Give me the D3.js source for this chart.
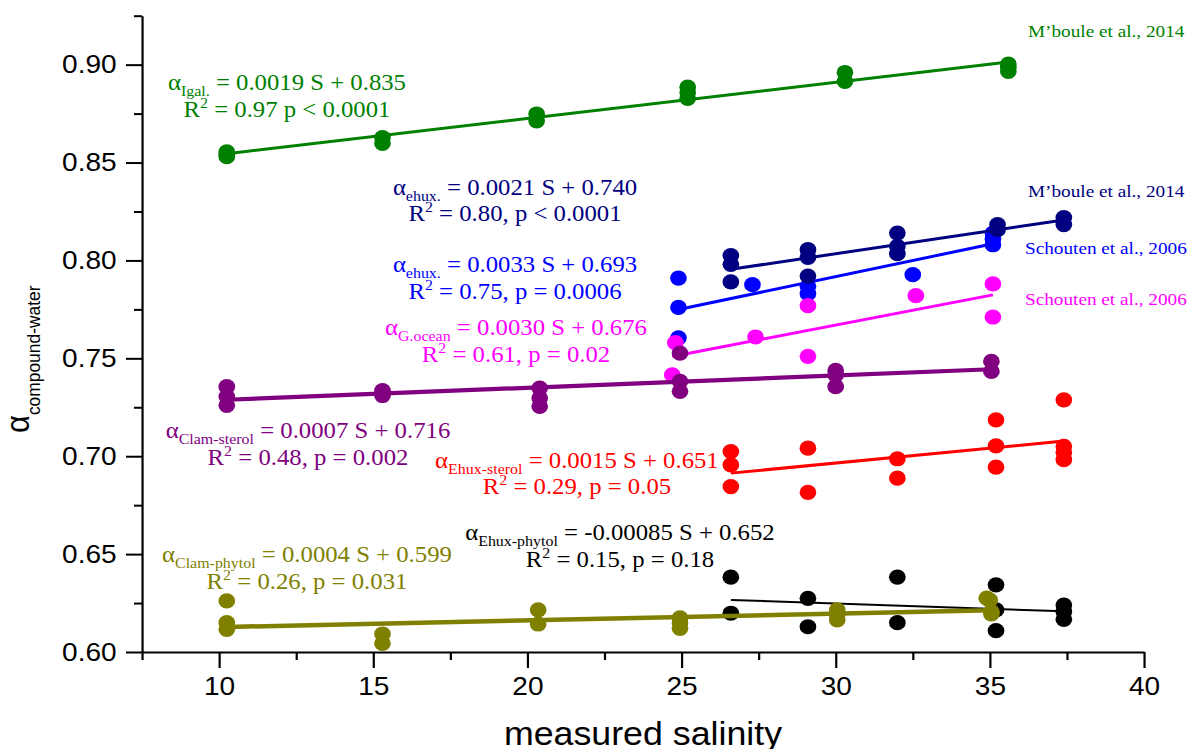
<!DOCTYPE html>
<html>
<head>
<meta charset="utf-8">
<script src="https://cdn.jsdelivr.net/npm/d3@7"></script>
<style>
  html, body { margin: 0; padding: 0; background: #fff; }
  svg { display: block; }
</style>
</head>
<body>
<svg id="chart" width="1190" height="749"></svg>
<script>
// ---- measured fractionation factors versus salinity ----
// I. galbana cultures (M'boule et al., 2014)
const salinityIgal = [10.25, 10.25, 10.25, 15.3, 15.3, 20.3, 20.3, 25.2, 25.2, 25.2, 30.3, 30.3, 35.6, 35.6, 35.6];
const alphaIgal    = [0.8555, 0.8540, 0.8530, 0.8627, 0.8598, 0.8748, 0.8713, 0.8885, 0.8858, 0.8828, 0.8960, 0.8915, 0.9003, 0.8985, 0.8965];

// E. huxleyi alkenones (Schouten et al., 2006)
const salinityEhuxS = [24.9, 24.9, 24.9, 27.3, 29.1, 29.1, 32.5, 35.1, 35.1, 35.1];
const alphaEhuxS    = [0.7910, 0.7760, 0.7605, 0.7876, 0.7868, 0.7830, 0.7927, 0.8140, 0.8110, 0.8080];

// E. huxleyi alkenones (M'boule et al., 2014)
const salinityEhuxM = [26.6, 26.6, 26.6, 29.1, 29.1, 29.1, 32.0, 32.0, 32.0, 35.25, 35.25, 37.4, 37.4];
const alphaEhuxM    = [0.8025, 0.7980, 0.7890, 0.8055, 0.8015, 0.7920, 0.8140, 0.8072, 0.8035, 0.8183, 0.8157, 0.8219, 0.8183];

// G. oceanica alkenones (Schouten et al., 2006)
const salinityGoc = [24.7, 24.8, 27.4, 29.1, 29.1, 32.6, 35.1, 35.1];
const alphaGoc    = [0.7416, 0.7580, 0.7609, 0.7769, 0.7510, 0.7820, 0.7880, 0.7711];

// Clam sterols
const salinityClamSterol = [10.25, 10.25, 10.25, 15.3, 15.3, 20.4, 20.4, 20.4, 24.95, 24.95, 24.95, 30.0, 30.0, 30.0, 35.05, 35.05];
const alphaClamSterol    = [0.7355, 0.7305, 0.7260, 0.7335, 0.7310, 0.7348, 0.7297, 0.7254, 0.7527, 0.7382, 0.7331, 0.7438, 0.7415, 0.7355, 0.7484, 0.7433];

// E. huxleyi sterols
const salinityEhuxSterol = [26.6, 26.6, 26.6, 29.1, 29.1, 32.0, 32.0, 35.2, 35.2, 35.2, 37.4, 37.4, 37.4, 37.4];
const alphaEhuxSterol    = [0.7024, 0.6956, 0.6845, 0.7041, 0.6815, 0.6987, 0.6888, 0.7186, 0.7053, 0.6944, 0.7288, 0.7050, 0.7019, 0.6982];

// E. huxleyi phytol
const salinityEhuxPhytol = [26.6, 26.6, 29.1, 29.1, 32.0, 32.0, 35.2, 35.2, 35.2, 37.4, 37.4, 37.4];
const alphaEhuxPhytol    = [0.6382, 0.6198, 0.6274, 0.6129, 0.6382, 0.6150, 0.6343, 0.6215, 0.6109, 0.6240, 0.6206, 0.6167];

// Clam phytol
const salinityClamPhytol = [10.25, 10.25, 10.25, 15.3, 15.3, 20.35, 20.35, 24.95, 24.95, 24.95, 30.05, 30.05, 30.05, 34.9, 35.0, 35.05, 35.05];
const alphaClamPhytol    = [0.6261, 0.6150, 0.6116, 0.6092, 0.6044, 0.6215, 0.6143, 0.6174, 0.6148, 0.6121, 0.6215, 0.6190, 0.6164, 0.6275, 0.6265, 0.6205, 0.6195];

// regression statistics printed beside each fit
const eqSubscripts = ["Igal.", "ehux.", "ehux.", "G.ocean", "Clam-sterol", "Ehux-sterol", "Ehux-phytol", "Clam-phytol"];
const eqLine1 = [" = 0.0019 S + 0.835", " = 0.0021 S + 0.740", " = 0.0033 S + 0.693", " = 0.0030 S + 0.676",
                 " = 0.0007 S + 0.716", " = 0.0015 S + 0.651", " = -0.00085 S + 0.652", " = 0.0004 S + 0.599"];
const eqLine2 = [" = 0.97 p < 0.0001", " = 0.80, p < 0.0001", " = 0.75, p = 0.0006", " = 0.61, p = 0.02",
                 " = 0.48, p = 0.002", " = 0.29, p = 0.05", " = 0.15, p = 0.18", " = 0.26, p = 0.031"];

// data sources
const sourceLabels = ["M\u2019boule et al., 2014", "M\u2019boule et al., 2014", "Schouten et al., 2006", "Schouten et al., 2006"];

// axis ticks
const xMajorTicks = [10, 15, 20, 25, 30, 35, 40];
const xMinorTicks = [7.5, 12.5, 17.5, 22.5, 27.5, 32.5, 37.5];
const yMajorTicks = [0.60, 0.65, 0.70, 0.75, 0.80, 0.85, 0.90];
const yMinorTicks = [0.625, 0.675, 0.725, 0.775, 0.825, 0.875, 0.925];

// ---- styling and layout ----
const SX = 1.1;   // whole figure is drawn slightly widened
const serif = "'Liberation Serif', 'Times New Roman', serif";
const sans = "'Liberation Sans', Arial, sans-serif";

const series = [
  { S: salinityIgal,       A: alphaIgal,       color: "#008000", lw: 3 },
  { S: salinityEhuxS,      A: alphaEhuxS,      color: "#0000FF", lw: 3 },
  { S: salinityEhuxM,      A: alphaEhuxM,      color: "#000080", lw: 3 },
  { S: salinityGoc,        A: alphaGoc,        color: "#FF00FF", lw: 3 },
  { S: salinityClamSterol, A: alphaClamSterol, color: "#800080", lw: 4.2 },
  { S: salinityEhuxSterol, A: alphaEhuxSterol, color: "#FF0000", lw: 3 },
  { S: salinityEhuxPhytol, A: alphaEhuxPhytol, color: "#000000", lw: 2 },
  { S: salinityClamPhytol, A: alphaClamPhytol, color: "#808000", lw: 4.5 }
];

// equation blocks: order igal, ehux(M), ehux(S), G.ocean, clam-sterol, ehux-sterol, ehux-phytol, clam-phytol
const eqColors = ["#008000", "#000080", "#0000FF", "#FF00FF", "#800080", "#FF0000", "#000000", "#808000"];
const eqLayout = [
  { cx: 260.9, y1: 90,  y2: 117 },
  { cx: 468.2, y1: 195, y2: 221 },
  { cx: 468.2, y1: 272, y2: 299 },
  { cx: 469.1, y1: 335, y2: 362 },
  { cx: 280.0, y1: 438, y2: 465 },
  { cx: 524.5, y1: 468, y2: 494 },
  { cx: 563.6, y1: 540, y2: 567 },
  { cx: 279.1, y1: 562, y2: 589 }
];
const sourceColors = ["#008000", "#000080", "#0000FF", "#FF00FF"];
const sourceLayout = [
  { x: 934.5, y: 37 }, { x: 934.5, y: 197 }, { x: 931.8, y: 254 }, { x: 931.8, y: 305 }
];

const svg = d3.select("#chart");
const g = svg.append("g").attr("transform", `scale(${SX},1)`);

const x = d3.scaleLinear().domain([7.5, 40]).range([142 / SX, 1144 / SX]);
const y = d3.scaleLinear().domain([0.6, 0.925]).range([652, 15.7]);

// ---- axes ----
function styleAxis(sel) {
  sel.attr("font-family", sans).attr("font-size", 25.5).attr("color", "#000");
  sel.selectAll(".domain").attr("stroke-width", 2);
  sel.selectAll(".tick line").attr("stroke-width", 2);
  sel.selectAll(".tick text").attr("fill", "#000");
}

const xAxisMinor = g.append("g").attr("transform", `translate(0,${y(0.6)})`)
  .call(d3.axisBottom(x).tickValues(xMinorTicks).tickSize(8).tickSizeOuter(0).tickFormat(""));
styleAxis(xAxisMinor);
xAxisMinor.select(".domain").remove();

const xAxis = g.append("g").attr("transform", `translate(0,${y(0.6)})`)
  .call(d3.axisBottom(x).tickValues(xMajorTicks).tickSize(16).tickSizeOuter(0).tickPadding(9).tickFormat(d3.format("d")));
styleAxis(xAxis);

const yAxisMinor = g.append("g").attr("transform", `translate(${x(7.5)},0)`)
  .call(d3.axisLeft(y).tickValues(yMinorTicks).tickSize(8 / SX).tickSizeOuter(0).tickFormat(""));
styleAxis(yAxisMinor);
yAxisMinor.select(".domain").remove();

const yAxis = g.append("g").attr("transform", `translate(${x(7.5)},0)`)
  .call(d3.axisLeft(y).tickValues(yMajorTicks).tickSize(16 / SX).tickSizeOuter(0).tickPadding(8.5).tickFormat(d3.format(".2f")));
styleAxis(yAxis);

// axis titles
g.append("text")
  .attr("x", (x.range()[0] + x.range()[1]) / 2)
  .attr("y", 745)
  .attr("text-anchor", "middle")
  .attr("font-family", sans)
  .attr("font-size", 32.5)
  .attr("fill", "#000")
  .text("measured salinity");

const yTitle = g.append("text")
  .attr("transform", "translate(26.5,433) rotate(-90)")
  .attr("font-family", sans)
  .attr("fill", "#000");
yTitle.append("tspan").attr("font-size", 31).text("\u03B1");
yTitle.append("tspan").attr("font-size", 17.4).attr("dy", 9.5).text("compound-water");

// ---- least-squares fit of each series ----
function linearFit(xs, ys) {
  const mx = d3.mean(xs), my = d3.mean(ys);
  let sxy = 0, sxx = 0;
  xs.forEach((v, i) => { sxy += (v - mx) * (ys[i] - my); sxx += (v - mx) * (v - mx); });
  const b = sxy / sxx;
  return { b, a: my - b * mx };
}

const line = d3.line().x(d => x(d[0])).y(d => y(d[1]));

series.forEach(s => {
  const pts = s.S.map((v, i) => [v, s.A[i]]);
  const layer = g.append("g");
  layer.selectAll("circle").data(pts).join("circle")
    .attr("cx", d => x(d[0]))
    .attr("cy", d => y(d[1]))
    .attr("r", 7.6)
    .attr("fill", s.color);
  const f = linearFit(s.S, s.A);
  const [s0, s1] = d3.extent(s.S);
  layer.append("path")
    .datum([[s0, f.a + f.b * s0], [s1, f.a + f.b * s1]])
    .attr("d", line)
    .attr("fill", "none")
    .attr("stroke", s.color)
    .attr("stroke-width", s.lw);
});

// ---- equation annotations ----
eqLayout.forEach((p, i) => {
  const t1 = g.append("text")
    .attr("x", p.cx).attr("y", p.y1)
    .attr("text-anchor", "middle")
    .attr("font-family", serif).attr("font-size", 22.5)
    .attr("fill", eqColors[i]);
  t1.append("tspan").text("\u03B1");
  t1.append("tspan").attr("font-size", 14.5).attr("dy", 6).text(eqSubscripts[i]);
  t1.append("tspan").attr("dy", -6).text(eqLine1[i]);

  const t2 = g.append("text")
    .attr("x", p.cx).attr("y", p.y2)
    .attr("text-anchor", "middle")
    .attr("font-family", serif).attr("font-size", 22.5)
    .attr("fill", eqColors[i]);
  t2.append("tspan").text("R");
  t2.append("tspan").attr("font-size", 14.5).attr("dy", -9).text("2");
  t2.append("tspan").attr("dy", 9).text(eqLine2[i]);
});

// ---- source labels ----
sourceLayout.forEach((p, i) => {
  g.append("text")
    .attr("x", p.x).attr("y", p.y)
    .attr("font-family", serif).attr("font-size", 17.5)
    .attr("fill", sourceColors[i])
    .text(sourceLabels[i]);
});
</script>
</body>
</html>
